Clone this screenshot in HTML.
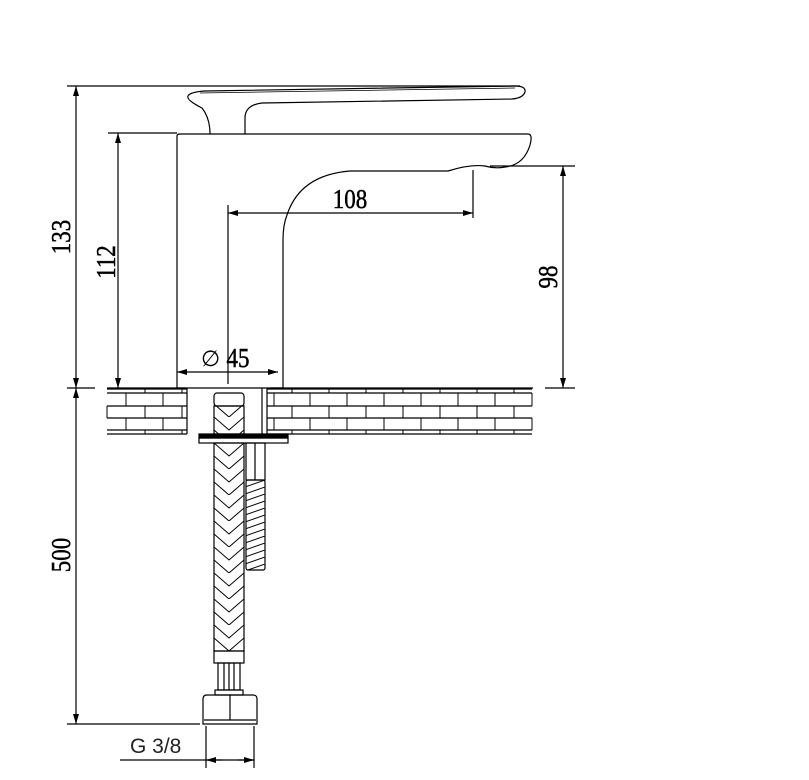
<!DOCTYPE html>
<html><head><meta charset="utf-8"><style>html,body{margin:0;padding:0;background:#fff}svg{display:block}</style></head><body>
<svg width="809" height="780" viewBox="0 0 809 780" xmlns="http://www.w3.org/2000/svg" font-family="Liberation Serif, serif">
<defs>
<marker id="a" viewBox="0 0 10 6" refX="10" refY="3" markerWidth="14" markerHeight="6" markerUnits="userSpaceOnUse" orient="auto-start-reverse"><path d="M0,0L10,3L0,6z" fill="#000"/></marker>
<pattern id="braid" x="214" y="443" width="30" height="26" patternUnits="userSpaceOnUse">
<path d="M0,0L15,13L30,0M0,13L15,26L30,13M15,13L15,13" stroke="#000" stroke-width="1" fill="none"/>
</pattern>
<pattern id="thr" x="245" y="480" width="20" height="7" patternUnits="userSpaceOnUse">
<path d="M0,7L20,0" stroke="#000" stroke-width="1"/>
</pattern>
</defs>
<g stroke="#000" fill="none" stroke-width="1.2">
<line x1="67" y1="86" x2="520" y2="86"/>
<line x1="108" y1="133" x2="177" y2="133"/>
<line x1="490" y1="166" x2="575" y2="166"/>
<line x1="67" y1="724" x2="200" y2="724"/>
<path d="M67,388H95M107,388H185M270,388H533M545,388H575"/>
<line x1="76" y1="86" x2="76" y2="388" marker-start="url(#a)" marker-end="url(#a)"/>
<line x1="76" y1="388" x2="76" y2="724" marker-start="url(#a)" marker-end="url(#a)"/>
<line x1="118" y1="133" x2="118" y2="388" marker-start="url(#a)" marker-end="url(#a)"/>
<line x1="563" y1="166" x2="563" y2="388" marker-start="url(#a)" marker-end="url(#a)"/>
<line x1="228" y1="213" x2="473" y2="213" marker-start="url(#a)" marker-end="url(#a)"/>
<line x1="473" y1="170" x2="473" y2="218"/>
<line x1="228" y1="205" x2="228" y2="384"/>
<line x1="177" y1="372" x2="278" y2="372" marker-start="url(#a)" marker-end="url(#a)"/>
<path d="M177,388V136Q177,134 180,134H528Q533,134 530,145Q524,165 505,167Q495,169 485,166Q470,164 448,171H350Q300,175 287,215Q283,225 283,240V388"/>
<line x1="177" y1="388" x2="283" y2="388"/>
<path d="M210,134Q210,118 202,108Q186,100 188,96Q190,92 205,91L515,86Q526,86 525,92Q523,98 512,99L262,103Q245,105 245,118V134"/>
<path d="M200,93L515,88" stroke-width="0.8"/>
<path d="M107,389H187M267,389H532M107,393H187M267,393H532M107,406H187M267,406H532M107,418H187M267,418H532M107,430H187M267,430H532M107,434H187M267,434H532"/>
<g stroke-width="1">
<path d="M126,393V406M163,393V406M126,418V430M163,418V430M145,406V418M182,406V418M107,406V418"/>
<path d="M274,393V406M310,393V406M347,393V406M384,393V406M421,393V406M458,393V406M495,393V406M532,393V406"/>
<path d="M274,418V430M310,418V430M347,418V430M384,418V430M421,418V430M458,418V430M495,418V430M532,418V430"/>
<path d="M292,406V418M329,406V418M366,406V418M403,406V418M440,406V418M477,406V418M514,406V418"/>
<path d="M145,389V393M182,389V393M292,389V393M329,389V393M366,389V393M403,389V393M440,389V393M477,389V393M514,389V393"/>
<path d="M145,430V434M182,430V434M292,430V434M329,430V434M366,430V434M403,430V434M440,430V434M477,430V434M514,430V434"/>
</g>
<path d="M187,388V434M267,388V434M262,388V434"/>
<rect x="214" y="393" width="30" height="13" rx="3"/>
<rect x="214" y="406" width="30" height="28" fill="url(#braid)"/>
<rect x="199" y="434" width="89" height="4" fill="#000"/>
<rect x="199" y="438" width="89" height="5"/>
<rect x="214" y="443" width="30" height="208" fill="url(#braid)"/>
<rect x="246" y="443" width="19" height="37"/>
<line x1="255" y1="443" x2="255" y2="480"/>
<rect x="246" y="480" width="19" height="90" rx="2" fill="url(#thr)"/>
<rect x="214" y="651" width="30" height="12"/>
<rect x="218" y="663" width="22" height="27"/>
<path d="M224,663V690M229,663V690M234,663V690"/>
<rect x="215" y="690" width="28" height="5"/>
<path d="M203,724V699Q203,695 207,695H253Q257,695 257,699V724Z"/>
<line x1="230" y1="695" x2="230" y2="720"/>
<path d="M204,720H256"/>
<path d="M206,726V768M254,726V768"/>
<line x1="120" y1="760" x2="254" y2="760"/>
<line x1="206" y1="760" x2="222" y2="760" marker-start="url(#a)"/>
<line x1="238" y1="760" x2="254" y2="760" marker-end="url(#a)"/>
</g>
<g font-size="27" fill="#000" stroke="#000" stroke-width="0.5">
<text transform="translate(350,208) scale(0.85,1)" text-anchor="middle">108</text>
<text transform="translate(238,367) scale(0.85,1)" text-anchor="middle">45</text>
<text transform="translate(70,237) rotate(-90) scale(0.85,1)" text-anchor="middle">133</text>
<text transform="translate(115,262) rotate(-90) scale(0.85,1)" text-anchor="middle">112</text>
<text transform="translate(70,555) rotate(-90) scale(0.85,1)" text-anchor="middle">500</text>
<text transform="translate(557,277) rotate(-90) scale(0.85,1)" text-anchor="middle">98</text>
</g>
<text x="201" y="366" font-family="DejaVu Sans, sans-serif" font-size="22" fill="#000">∅</text>
<text x="130" y="753" font-family="Liberation Sans, sans-serif" font-size="21" fill="#222">G 3/8</text>
</svg>
</body></html>
